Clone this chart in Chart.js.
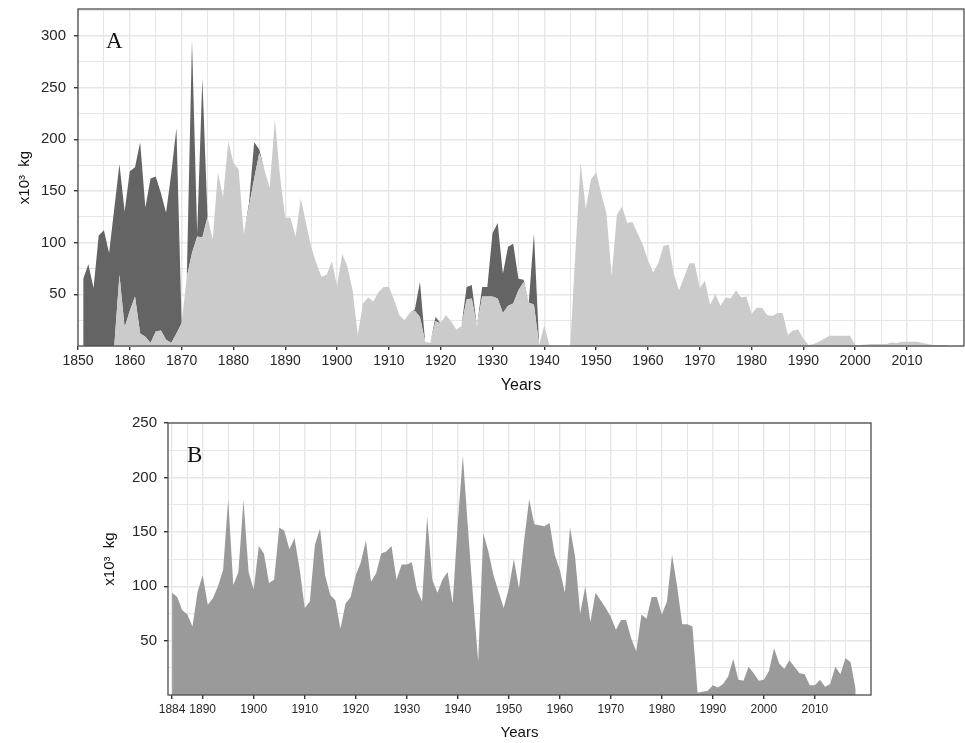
<!DOCTYPE html>
<html lang="en">
<head>
    <meta charset="UTF-8">
    <title>Landings x10³ kg - panels A and B</title>
    <script src="https://cdn.jsdelivr.net/npm/chart.js"></script>
    <style>
        body { margin: 0; background: #fff; }
        .panel { position: absolute; left: 0; width: 965px; }
        #panelA { top: 0; height: 400px; }
        #panelB { top: 400px; height: 343px; }
    </style>
</head>
<body>
    <div class="panel" id="panelA"><canvas id="chartA"></canvas></div>
    <div class="panel" id="panelB"><canvas id="chartB"></canvas></div>

    <script>
// ---- Panel A : two stacked series, 1851-2018 (x10^3 kg) ----
const firstYearA = 1851;
// light grey (bottom layer)
const lightA = [
    0, 0, 0, 0, 0, 0, 0, 69, 18, 34,                  // 1851-1860
    48, 12, 9, 3, 14, 15, 6, 3, 12, 22,               // 1861-1870
    67, 90, 106, 105, 125, 103, 168, 144, 198, 177,   // 1871-1880
    171, 108, 135, 162, 187, 170, 153, 219, 164, 124, // 1881-1890
    124, 106, 143, 119, 96, 80, 67, 69, 82, 58,       // 1891-1900
    89, 77, 54, 11, 41, 47, 43, 52, 57, 57,           // 1901-1910
    45, 30, 25, 32, 34, 28, 4, 3, 24, 22,             // 1911-1920
    30, 24, 16, 19, 45, 46, 19, 48, 48, 48,           // 1921-1930
    46, 32, 39, 41, 54, 62, 42, 40, 1, 20,            // 1931-1940
    0, 0, 0, 0, 0, 90, 177, 133, 161, 168,            // 1941-1950
    147, 128, 68, 127, 135, 119, 120, 109, 98, 83,    // 1951-1960
    71, 80, 97, 98, 70, 54, 67, 80, 80, 56,           // 1961-1970
    63, 40, 50, 39, 47, 46, 54, 47, 48, 31,           // 1971-1980
    37, 37, 30, 29, 32, 32, 11, 15, 16, 7,            // 1981-1990
    1, 2, 4, 7, 10, 10, 10, 10, 10, 1,                // 1991-2000
    1, 1.5, 2, 2, 2, 2, 3.5, 3, 4, 4,                 // 2001-2010
    4, 4, 3, 2, 1, 1, 1, 0.5                          // 2011-2018
];
// dark grey (stacked on top), only present 1851-1940
const darkA = [
    65, 79, 56, 107, 112, 90, 133, 107, 112, 135,     // 1851-1860
    125, 185, 125, 159, 150, 133, 123, 164, 199, 0,   // 1861-1870
    0, 206, 3, 154, 0, 0, 0, 0, 0, 0,                 // 1871-1880
    0, 0, 3, 35, 3, 0, 0, 0, 0, 0,                    // 1881-1890
    0, 0, 0, 0, 0, 0, 0, 0, 0, 0,                     // 1891-1900
    0, 0, 0, 0, 0, 0, 0, 0, 0, 0,                     // 1901-1910
    0, 0, 0, 0, 1, 34, 0, 0, 4, 0,                    // 1911-1920
    0, 0, 0, 0, 12, 13, 0, 9, 9, 61,                  // 1921-1930
    73, 38, 57, 58, 11, 2, 0, 69, 0, 0                // 1931-1940
];
const xLabelsA = [1850, 1860, 1870, 1880, 1890, 1900, 1910, 1920, 1930, 1940, 1950, 1960, 1970, 1980, 1990, 2000, 2010];
const yLabelsA = [50, 100, 150, 200, 250, 300];

// ---- Panel B : single series, 1884-2018 ----
const firstYearB = 1884;
const valuesB = [
    94, 90, 78, 74, 63, 95, 110,                      // 1884-1890
    83, 89, 100, 115, 180, 101, 113, 179, 113, 97,    // 1891-1900
    137, 130, 103, 106, 154, 151, 134, 144, 116, 80,  // 1901-1910
    86, 138, 153, 110, 92, 87, 61, 84, 90, 110,       // 1911-1920
    122, 142, 104, 112, 130, 132, 137, 106, 120, 120, // 1921-1930
    122, 97, 86, 164, 106, 94, 106, 113, 84, 158,     // 1931-1940
    220, 153, 90, 31, 149, 132, 110, 95, 80, 98,      // 1941-1950
    125, 98, 142, 180, 157, 156, 155, 158, 129, 115,  // 1951-1960
    94, 154, 127, 75, 100, 67, 94, 87, 80, 72,        // 1961-1970
    60, 69, 69, 52, 40, 74, 70, 90, 90, 74,           // 1971-1980
    86, 129, 100, 65, 65, 63, 2, 3, 4, 9,             // 1981-1990
    7, 10, 17, 33, 14, 13, 26, 20, 13, 14,            // 1991-2000
    22, 43, 29, 24, 32, 26, 20, 19, 9, 9,             // 2001-2010
    14, 7.5, 10, 26, 19, 34, 30, 5                    // 2011-2018
];
const xLabelsB = [1884, 1890, 1900, 1910, 1920, 1930, 1940, 1950, 1960, 1970, 1980, 1990, 2000, 2010];
const xMinorB = [1887, 1895, 1905, 1915, 1925, 1935, 1945, 1955, 1965, 1975, 1985, 1995, 2005, 2013, 2016];
const yLabelsB = [50, 100, 150, 200, 250];

Chart.defaults.font.family = "'Liberation Sans', Arial, sans-serif";
Chart.defaults.color = '#262626';

function toPoints(startYear, values) {
    return values.map((v, i) => ({ x: startYear + i, y: v }));
}

// frame around the plot area + panel letter
const framePlugin = {
    id: 'frame',
    afterDatasetsDraw(chart, args, opts) {
        const { ctx, chartArea: a } = chart;
        ctx.save();
        ctx.strokeStyle = '#4d4d4d';
        ctx.lineWidth = 1.3;
        ctx.strokeRect(a.left, a.top, a.right - a.left, a.bottom - a.top);
        ctx.fillStyle = '#111';
        ctx.font = "23px 'Liberation Serif', 'Times New Roman', serif";
        ctx.fillText(opts.letter, a.left + opts.dx, a.top + opts.dy);
        ctx.restore();
    }
};

function gridScale(ticks, labels, o) {
    return {
        type: 'linear',
        min: o.min,
        max: o.max,
        stacked: o.stacked || false,
        afterBuildTicks: s => { s.ticks = ticks.map(v => ({ value: v })); },
        afterFit: s => {
            if (o.width) s.width = o.width;
            if (o.height) s.height = o.height;
            // keep the plot area where the layout padding puts it
            s.paddingTop = 0; s.paddingBottom = 0; s.paddingLeft = 0; s.paddingRight = 0;
        },
        border: { display: false },
        grid: {
            color: '#e6e6e6',
            lineWidth: c => labels.includes(c.tick.value) ? 1.4 : 1,
            tickColor: c => labels.includes(c.tick.value) ? '#333' : 'rgba(0,0,0,0)',
            tickLength: 4,
            drawTicks: true
        },
        ticks: {
            autoSkip: false,
            maxRotation: 0,
            padding: o.tickPad,
            font: { size: o.tickSize },
            color: '#262626',
            callback: v => labels.includes(v) ? String(v) : ''
        },
        title: {
            display: true,
            text: o.title,
            color: '#111',
            font: { size: o.titleSize },
            padding: o.titlePad
        }
    };
}

// ---- chart A ----
const xTicksA = [];
for (let y = 1850; y <= 2015; y += 5) xTicksA.push(y);
const yTicksA = [0, 25, 50, 75, 100, 125, 150, 175, 200, 225, 250, 275, 300, 325];

new Chart(document.getElementById('chartA'), {
    type: 'line',
    data: {
        datasets: [
            {
                label: 'light',
                data: toPoints(firstYearA, lightA),
                backgroundColor: '#cbcbcb',
                borderWidth: 0,
                pointRadius: 0,
                fill: 'origin'
            },
            {
                label: 'dark',
                data: toPoints(firstYearA, darkA),
                backgroundColor: '#646464',
                borderWidth: 0,
                pointRadius: 0,
                fill: '-1'
            }
        ]
    },
    options: {
        responsive: true,
        maintainAspectRatio: false,
        animation: false,
        events: [],
        layout: { padding: { left: 0, right: 1, top: 9, bottom: 0 } },
        plugins: { legend: { display: false }, tooltip: { enabled: false }, frame: { letter: 'A', dx: 28, dy: 39 } },
        scales: {
            x: gridScale(xTicksA, xLabelsA, { min: 1850, max: 2021, height: 54, tickPad: 3, tickSize: 14, title: 'Years', titleSize: 16, titlePad: { top: 0, bottom: 5 } }),
            y: gridScale(yTicksA, yLabelsA, { min: 0, max: 326, width: 78, stacked: true, tickPad: 8, tickSize: 15, title: 'x10³  kg', titleSize: 15, titlePad: { top: 16, bottom: 0 } })
        }
    },
    plugins: [framePlugin]
});

// ---- chart B ----
const xTicksB = xLabelsB.concat(xMinorB).sort((a, b) => a - b);
const yTicksB = [25, 50, 75, 100, 125, 150, 175, 200, 225, 250];

new Chart(document.getElementById('chartB'), {
    type: 'line',
    data: {
        datasets: [{
            label: 'B',
            data: toPoints(firstYearB, valuesB),
            backgroundColor: '#9a9a9a',
            borderWidth: 0,
            pointRadius: 0,
            fill: 'origin'
        }]
    },
    options: {
        responsive: true,
        maintainAspectRatio: false,
        animation: false,
        events: [],
        layout: { padding: { left: 0, right: 94, top: 23, bottom: 0 } },
        plugins: { legend: { display: false }, tooltip: { enabled: false }, frame: { letter: 'B', dx: 19, dy: 39 } },
        scales: {
            x: gridScale(xTicksB, xLabelsB, { min: 1883.2, max: 2021, height: 48, tickPad: 3, tickSize: 12, title: 'Years', titleSize: 15, titlePad: { top: 0, bottom: 1 } }),
            y: gridScale(yTicksB, yLabelsB, { min: 0, max: 250, width: 168, tickPad: 7, tickSize: 15, title: 'x10³  kg', titleSize: 15, titlePad: { top: 101, bottom: 0 } })
        }
    },
    plugins: [framePlugin]
});
    </script>
</body>
</html>
